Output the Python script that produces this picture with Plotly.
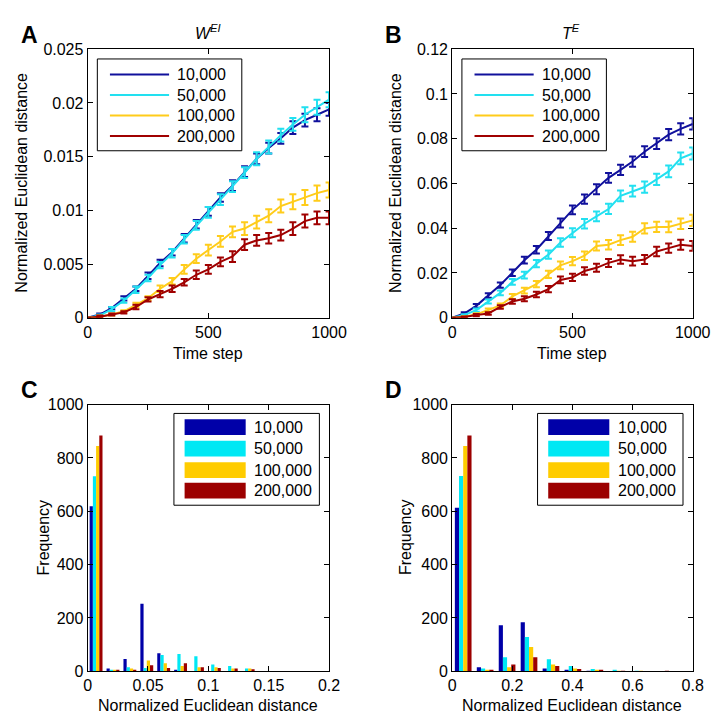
import plotly.graph_objects as go

# ---------------- data ----------------
series_names = ["10,000", "50,000", "100,000", "200,000"]
line_colors = ["#10109C", "#22E0F0", "#FFCC1A", "#A00000"]
bar_colors = ["#0000A8", "#00E8F4", "#FFCC00", "#9C0000"]

time_steps = [0, 50, 100, 150, 200, 250, 300, 350, 400, 450, 500,
              550, 600, 650, 700, 750, 800, 850, 900, 950, 1000]

# Panel A  (W^EI)
A_blue = [0, 0.0003, 0.0009, 0.0018, 0.0027, 0.0039, 0.0051, 0.0061, 0.0074, 0.0087, 0.0099,
          0.0112, 0.0123, 0.0136, 0.0148, 0.0158, 0.0167, 0.0177, 0.0184, 0.0189, 0.0194]
A_cyan = [0, 0.0002, 0.0008, 0.0016, 0.0026, 0.0037, 0.0049, 0.0060, 0.0073, 0.0086, 0.0098,
          0.0110, 0.0122, 0.0135, 0.0148, 0.0159, 0.0170, 0.0180, 0.0189, 0.0196, 0.0203]
A_yellow = [0, 0.0001, 0.0003, 0.0006, 0.0012, 0.0018, 0.0027, 0.0034, 0.0045, 0.0055, 0.0063,
            0.0071, 0.0080, 0.0083, 0.0089, 0.0095, 0.0104, 0.0108, 0.0112, 0.0116, 0.0119]
A_red = [0, 0.0001, 0.0003, 0.0005, 0.0010, 0.0017, 0.0022, 0.0027, 0.0033, 0.0040, 0.0045,
         0.0052, 0.0057, 0.0068, 0.0072, 0.0074, 0.0077, 0.0083, 0.0090, 0.0093, 0.0093]
A_blue_err = [0, 0.0001, 0.0001, 0.0002, 0.0002, 0.0003, 0.0003, 0.0003, 0.0004, 0.0004, 0.0004,
              0.0004, 0.0005, 0.0005, 0.0005, 0.0005, 0.0005, 0.0006, 0.0006, 0.0006, 0.0006]
A_cyan_err = [0, 0.0001, 0.0002, 0.0002, 0.0003, 0.0003, 0.0003, 0.0004, 0.0004, 0.0004, 0.0005,
              0.0005, 0.0005, 0.0005, 0.0006, 0.0006, 0.0006, 0.0006, 0.0007, 0.0007, 0.0007]
A_yellow_err = [0, 0.0001, 0.0001, 0.0001, 0.0002, 0.0002, 0.0003, 0.0003, 0.0004, 0.0004, 0.0005,
                0.0005, 0.0005, 0.0006, 0.0006, 0.0006, 0.0006, 0.0007, 0.0007, 0.0007, 0.0007]
A_red_err = [0, 0.0001, 0.0001, 0.0001, 0.0002, 0.0002, 0.0003, 0.0003, 0.0003, 0.0004, 0.0004,
             0.0004, 0.0005, 0.0005, 0.0005, 0.0005, 0.0005, 0.0006, 0.0006, 0.0006, 0.0006]

# Panel B  (T^E)
B_blue = [0, 0.0019, 0.0053, 0.0099, 0.0146, 0.0201, 0.0257, 0.0304, 0.0365, 0.0423, 0.0482,
          0.0530, 0.0574, 0.0625, 0.0661, 0.0698, 0.0742, 0.0778, 0.0818, 0.0844, 0.0866]
B_cyan = [0, 0.0012, 0.0034, 0.0073, 0.0111, 0.0160, 0.0190, 0.0242, 0.0282, 0.0336, 0.0380,
          0.0420, 0.0453, 0.0486, 0.0545, 0.0566, 0.0584, 0.0618, 0.0654, 0.0712, 0.0734]
B_yellow = [0, 0.0004, 0.0015, 0.0034, 0.0055, 0.0095, 0.0121, 0.0150, 0.0194, 0.0234, 0.0253,
            0.0277, 0.0321, 0.0326, 0.0347, 0.0362, 0.0399, 0.0406, 0.0406, 0.0420, 0.0435]
B_red = [0, 0.0003, 0.0012, 0.0019, 0.0048, 0.0073, 0.0085, 0.0104, 0.0128, 0.0169, 0.0180,
         0.0209, 0.0223, 0.0245, 0.0260, 0.0253, 0.0260, 0.0296, 0.0311, 0.0326, 0.0321]
B_blue_err = [0, 0.0005, 0.0008, 0.0010, 0.0012, 0.0014, 0.0015, 0.0017, 0.0018, 0.0020, 0.0020,
              0.0021, 0.0022, 0.0022, 0.0023, 0.0023, 0.0024, 0.0024, 0.0025, 0.0025, 0.0025]
B_cyan_err = [0, 0.0004, 0.0007, 0.0009, 0.0011, 0.0013, 0.0015, 0.0016, 0.0018, 0.0019, 0.0020,
              0.0021, 0.0022, 0.0023, 0.0024, 0.0024, 0.0025, 0.0025, 0.0026, 0.0026, 0.0027]
B_yellow_err = [0, 0.0003, 0.0005, 0.0007, 0.0009, 0.0011, 0.0013, 0.0014, 0.0016, 0.0017, 0.0018,
                0.0019, 0.0020, 0.0021, 0.0022, 0.0022, 0.0023, 0.0023, 0.0024, 0.0024, 0.0025]
B_red_err = [0, 0.0003, 0.0005, 0.0006, 0.0008, 0.0010, 0.0011, 0.0012, 0.0014, 0.0015, 0.0016,
             0.0017, 0.0018, 0.0018, 0.0019, 0.0020, 0.0020, 0.0021, 0.0021, 0.0022, 0.0022]

# Panel C  histogram of W^EI distance
C_centers = [0.007, 0.021, 0.035, 0.049, 0.063, 0.077, 0.091, 0.105, 0.119, 0.133]
C_blue = [619, 10, 46, 253, 67, 5, 0, 0, 0, 0]
C_cyan = [731, 5, 15, 12, 61, 65, 56, 25, 20, 10]
C_yellow = [845, 5, 10, 40, 30, 20, 15, 15, 10, 10]
C_red = [884, 3, 5, 22, 12, 30, 15, 12, 10, 7]

# Panel D  histogram of T^E distance
D_centers = [0.0365, 0.1095, 0.1825, 0.2555, 0.3285, 0.4015, 0.4745, 0.5475, 0.6205, 0.6935]
D_blue = [613, 15, 172, 184, 10, 4, 2, 0, 0, 0]
D_cyan = [732, 10, 52, 128, 45, 20, 8, 3, 2, 0]
D_yellow = [845, 5, 15, 91, 25, 10, 5, 2, 2, 0]
D_red = [884, 5, 25, 52, 20, 8, 3, 1, 0, 2]

# ticks
A_yticks = [0, 0.005, 0.01, 0.015, 0.02, 0.025]
A_yticktext = ["0", "0.005", "0.01", "0.015", "0.02", "0.025"]
B_yticks = [0, 0.02, 0.04, 0.06, 0.08, 0.1, 0.12]
B_yticktext = ["0", "0.02", "0.04", "0.06", "0.08", "0.1", "0.12"]
T_xticks = [0, 500, 1000]
C_xticks = [0, 0.05, 0.1, 0.15, 0.2]
C_xticktext = ["0", "0.05", "0.1", "0.15", "0.2"]
D_xticks = [0, 0.2, 0.4, 0.6, 0.8]
D_xticktext = ["0", "0.2", "0.4", "0.6", "0.8"]
F_yticks = [0, 200, 400, 600, 800, 1000]

# ---------------- layout helpers ----------------
W, H = 725, 723
FONT = "Liberation Sans, Arial, sans-serif"


def fx(x):
    return x / W


def fy(y):
    return 1 - y / H


fig = go.Figure()

A_series = [(A_blue, A_blue_err), (A_cyan, A_cyan_err), (A_yellow, A_yellow_err), (A_red, A_red_err)]
B_series = [(B_blue, B_blue_err), (B_cyan, B_cyan_err), (B_yellow, B_yellow_err), (B_red, B_red_err)]

for (vals, err), name, col in zip(A_series, series_names, line_colors):
    fig.add_trace(go.Scatter(x=time_steps, y=vals, mode="lines", name=name,
                             line=dict(color=col, width=2),
                             error_y=dict(type="data", array=err, color=col, thickness=2, width=3.5),
                             xaxis="x", yaxis="y", showlegend=False))
for (vals, err), name, col in zip(B_series, series_names, line_colors):
    fig.add_trace(go.Scatter(x=time_steps, y=vals, mode="lines", name=name,
                             line=dict(color=col, width=2),
                             error_y=dict(type="data", array=err, color=col, thickness=2, width=3.5),
                             xaxis="x2", yaxis="y2", showlegend=False))
for vals, name, col in zip([C_blue, C_cyan, C_yellow, C_red], series_names, bar_colors):
    fig.add_trace(go.Bar(x=C_centers, y=vals, name=name, marker=dict(color=col, line=dict(width=0)),
                         xaxis="x3", yaxis="y3", showlegend=False))
for vals, name, col in zip([D_blue, D_cyan, D_yellow, D_red], series_names, bar_colors):
    fig.add_trace(go.Bar(x=D_centers, y=vals, name=name, marker=dict(color=col, line=dict(width=0)),
                         xaxis="x4", yaxis="y4", showlegend=False))

axis_common = dict(showline=True, linecolor="black", linewidth=1, mirror="ticks",
                   ticks="inside", ticklen=5, tickcolor="black", tickwidth=1,
                   showgrid=False, zeroline=False,
                   tickfont=dict(family=FONT, size=16, color="black"))

# pixel boxes of the axes
boxA = (78, 327, 34, 309)
boxB = (454, 702, 34, 309)
boxC = (78, 327, 398, 671)
boxD = (454, 702, 398, 671)


def xdom(b):
    return [fx(b[0]), fx(b[1])]


def ydom(b):
    return [fy(b[3]), fy(b[2])]


fig.update_layout(
    width=W, height=H,
    margin=dict(l=0, r=0, t=0, b=0),
    paper_bgcolor="white", plot_bgcolor="white",
    barmode="group", bargap=0.24, bargroupgap=0,
    showlegend=False,
    font=dict(family=FONT, size=16, color="black"),
    xaxis=dict(domain=xdom(boxA), range=[0, 1000], tickvals=T_xticks, anchor="y", **axis_common),
    yaxis=dict(domain=ydom(boxA), range=[0, 0.025], tickvals=A_yticks, ticktext=A_yticktext,
               anchor="x", **axis_common),
    xaxis2=dict(domain=xdom(boxB), range=[0, 1000], tickvals=T_xticks, anchor="y2", **axis_common),
    yaxis2=dict(domain=ydom(boxB), range=[0, 0.12], tickvals=B_yticks, ticktext=B_yticktext,
                anchor="x2", **axis_common),
    xaxis3=dict(domain=xdom(boxC), range=[0, 0.2], tickvals=C_xticks, ticktext=C_xticktext,
                anchor="y3", **axis_common),
    yaxis3=dict(domain=ydom(boxC), range=[0, 1000], tickvals=F_yticks, anchor="x3", **axis_common),
    xaxis4=dict(domain=xdom(boxD), range=[0, 0.8], tickvals=D_xticks, ticktext=D_xticktext,
                anchor="y4", **axis_common),
    yaxis4=dict(domain=ydom(boxD), range=[0, 1000], tickvals=F_yticks, anchor="x4", **axis_common),
)

annotations = []
shapes = []


def text(x, y, s, size=16, angle=0, xanchor="center", yanchor="middle", weight="normal"):
    annotations.append(dict(x=fx(x), y=fy(y), xref="paper", yref="paper", text=s,
                            showarrow=False, textangle=angle, xanchor=xanchor, yanchor=yanchor,
                            font=dict(family=FONT, size=size, color="black", weight=weight)))


# panel letters
text(18, 19, "A", size=23, weight="bold")
text(393, 19, "B", size=23, weight="bold")
text(18, 383, "C", size=23, weight="bold")
text(393, 383, "D", size=23, weight="bold")

# titles
text(202, 16, "<i>W</i><sup><i>EI</i></sup>", size=16)
text(577, 16, "<i>T</i><sup><i>E</i></sup>", size=16)

# axis titles
text(202, 346, "Time step")
text(578, 346, "Time step")
text(202, 706, "Normalized Euclidean distance")
text(578, 706, "Normalized Euclidean distance")
text(10, 171, "Normalized Euclidean distance", angle=-90)
text(396, 171, "Normalized Euclidean distance", angle=-90)
text(32, 534, "Frequency", angle=-90)
text(406, 534, "Frequency", angle=-90)

# legends (line panels)
item_y = [60, 81, 102, 123]
for (bx0, bx1, lx0, lx1, tx) in [(88, 237, 101, 162, 168), (464, 613, 477, 538, 545)]:
    shapes.append(dict(type="rect", xref="paper", yref="paper", x0=fx(bx0), x1=fx(bx1),
                       y0=fy(138), y1=fy(44), line=dict(color="black", width=1),
                       fillcolor="white", layer="above"))
    for yy, name, col in zip(item_y, series_names, line_colors):
        shapes.append(dict(type="line", xref="paper", yref="paper", x0=fx(lx0), x1=fx(lx1),
                           y0=fy(yy), y1=fy(yy), line=dict(color=col, width=2), layer="above"))
        text(tx, yy, name, xanchor="left")

# legends (bar panels)
rows = [(413, 429), (435, 451), (457, 473), (478, 494)]
for (bx0, bx1, rx0, rx1, tx) in [(167, 317, 178, 241, 247), (542, 692, 553, 616, 623)]:
    shapes.append(dict(type="rect", xref="paper", yref="paper", x0=fx(bx0), x1=fx(bx1),
                       y0=fy(501), y1=fy(407), line=dict(color="black", width=1),
                       fillcolor="white", layer="above"))
    for (r0, r1), name, col in zip(rows, series_names, bar_colors):
        shapes.append(dict(type="rect", xref="paper", yref="paper", x0=fx(rx0), x1=fx(rx1),
                           y0=fy(r1), y1=fy(r0), line=dict(width=0), fillcolor=col, layer="above"))
        text(tx, (r0 + r1) / 2, name, xanchor="left")

fig.update_layout(annotations=annotations, shapes=shapes)

fig.write_html("out.html")
